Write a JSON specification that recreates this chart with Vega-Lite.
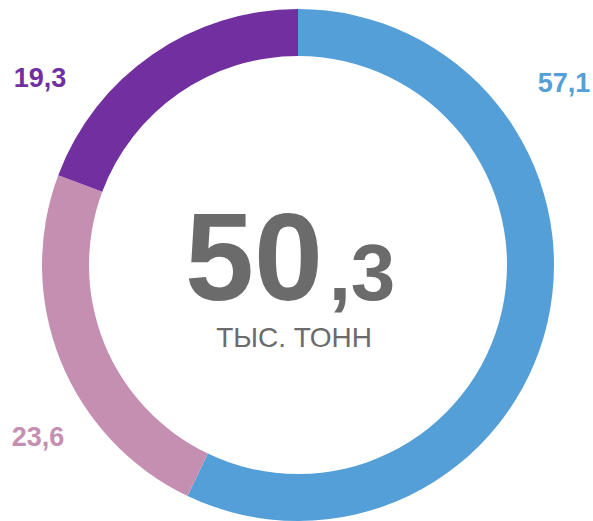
{
  "$schema": "https://vega.github.io/schema/vega-lite/v6.json",
  "width": 590,
  "height": 512,
  "autosize": {"type": "none"},
  "padding": {"left": 3, "top": 9, "right": 0, "bottom": 0},
  "background": "white",
  "config": {"view": {"stroke": null}, "text": {"font": "Liberation Sans"}},
  "datasets": {
    "parts": [
      {"cat": "57,1", "value": 57.1},
      {"cat": "23,6", "value": 23.6},
      {"cat": "19,3", "value": 19.3}
    ],
    "center": [
      {"whole": "50", "frac": ",3", "unit": "ТЫС. ТОНН"}
    ]
  },
  "data": {"name": "parts"},
  "layer": [
    {
      "mark": {"type": "arc", "innerRadius": 209, "outerRadius": 256},
      "encoding": {
        "theta": {"field": "value", "type": "quantitative", "stack": true},
        "order": {"field": "value", "type": "quantitative", "sort": "descending"},
        "color": {
          "field": "cat", "type": "nominal", "legend": null,
          "scale": {"domain": ["57,1", "23,6", "19,3"], "range": ["#549fd8", "#c58fb1", "#722f9f"]}
        }
      }
    },
    {
      "transform": [{"filter": "datum.cat == '57,1'"}],
      "mark": {"type": "text", "x": {"expr": "width/2"}, "y": {"expr": "height/2"}, "dx": 266, "dy": -173, "align": "center", "baseline": "alphabetic", "fontSize": 27, "fontWeight": "bold", "color": "#549fd8"},
      "encoding": {"text": {"field": "cat"}}
    },
    {
      "transform": [{"filter": "datum.cat == '19,3'"}],
      "mark": {"type": "text", "x": {"expr": "width/2"}, "y": {"expr": "height/2"}, "dx": -258, "dy": -178, "align": "center", "baseline": "alphabetic", "fontSize": 27, "fontWeight": "bold", "color": "#722f9f"},
      "encoding": {"text": {"field": "cat"}}
    },
    {
      "transform": [{"filter": "datum.cat == '23,6'"}],
      "mark": {"type": "text", "x": {"expr": "width/2"}, "y": {"expr": "height/2"}, "dx": -260, "dy": 181, "align": "center", "baseline": "alphabetic", "fontSize": 27, "fontWeight": "bold", "color": "#c58fb1"},
      "encoding": {"text": {"field": "cat"}}
    },
    {
      "data": {"name": "center"},
      "mark": {"type": "text", "x": {"expr": "width/2"}, "y": {"expr": "height/2"}, "dx": -44, "dy": 35, "align": "center", "baseline": "alphabetic", "fontSize": 124, "fontWeight": "bold", "color": "#6b6b6b"},
      "encoding": {"text": {"field": "whole"}}
    },
    {
      "data": {"name": "center"},
      "mark": {"type": "text", "x": {"expr": "width/2"}, "y": {"expr": "height/2"}, "dx": 64, "dy": 35, "align": "center", "baseline": "alphabetic", "fontSize": 80, "fontWeight": "bold", "color": "#6b6b6b"},
      "encoding": {"text": {"field": "frac"}}
    },
    {
      "data": {"name": "center"},
      "mark": {"type": "text", "x": {"expr": "width/2"}, "y": {"expr": "height/2"}, "dx": -4, "dy": 82, "align": "center", "baseline": "alphabetic", "fontSize": 28, "color": "#6b6b6b"},
      "encoding": {"text": {"field": "unit"}}
    }
  ]
}
